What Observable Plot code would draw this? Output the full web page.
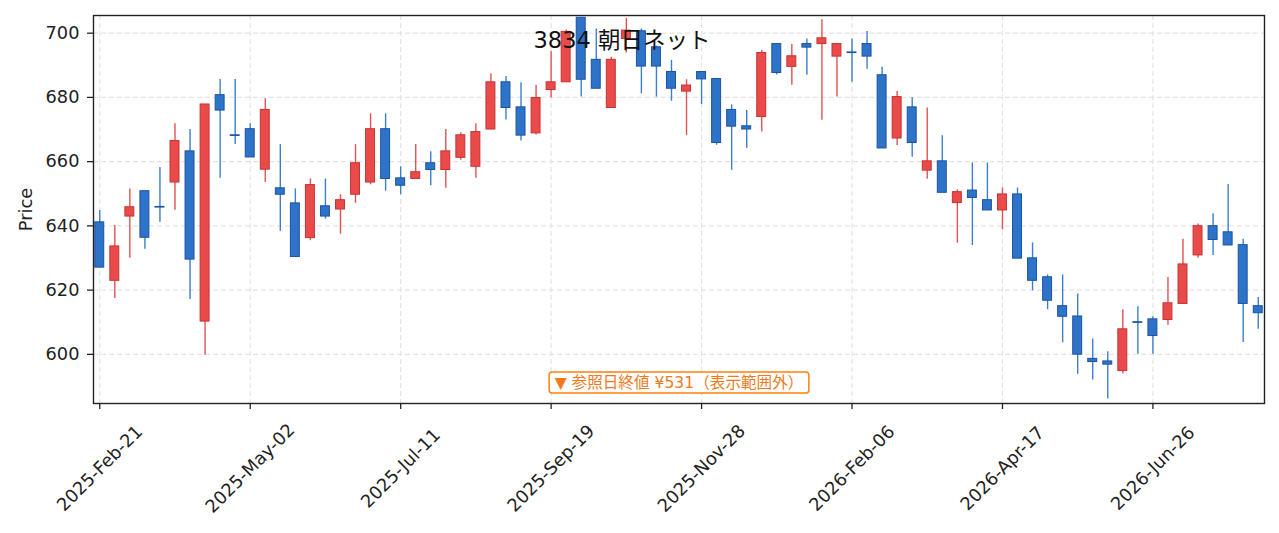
<!DOCTYPE html>
<html>
<head>
<meta charset="utf-8">
<script src="https://cdn.jsdelivr.net/npm/d3@7"></script>
<script src="https://cdn.jsdelivr.net/npm/@observablehq/plot@0.6"></script>
<style>
  html, body { margin: 0; padding: 0; background: #ffffff; }
  #chart { width: 1279px; height: 533px; }
</style>
</head>
<body>
<div id="chart"></div>
<script>
// ---- Data (weekly candles) ----
const dates = [
  "2025-02-21","2025-02-28","2025-03-07","2025-03-14","2025-03-21","2025-03-28","2025-04-04","2025-04-11","2025-04-18","2025-04-25",
  "2025-05-02","2025-05-09","2025-05-16","2025-05-23","2025-05-30","2025-06-06","2025-06-13","2025-06-20","2025-06-27","2025-07-04",
  "2025-07-11","2025-07-18","2025-07-25","2025-08-01","2025-08-08","2025-08-15","2025-08-22","2025-08-29","2025-09-05","2025-09-12",
  "2025-09-19","2025-09-26","2025-10-03","2025-10-10","2025-10-17","2025-10-24","2025-10-31","2025-11-07","2025-11-14","2025-11-21",
  "2025-11-28","2025-12-05","2025-12-12","2025-12-19","2025-12-26","2026-01-02","2026-01-09","2026-01-16","2026-01-23","2026-01-30",
  "2026-02-06","2026-02-13","2026-02-20","2026-02-27","2026-03-06","2026-03-13","2026-03-20","2026-03-27","2026-04-03","2026-04-10",
  "2026-04-17","2026-04-24","2026-05-01","2026-05-08","2026-05-15","2026-05-22","2026-05-29","2026-06-05","2026-06-12","2026-06-19",
  "2026-06-26","2026-07-03","2026-07-10","2026-07-17","2026-07-24","2026-07-31","2026-08-07","2026-08-14"
];
const open = [
  641.1,622.9,642.9,650.8,645.9,653.5,663.2,610.2,680.7,668.2,
  670.1,657.5,651.7,647.0,636.2,646.1,645.1,649.7,653.5,670.1,
  654.8,654.6,659.5,657.4,661.2,658.4,670.0,684.7,676.9,668.8,
  682.3,684.7,704.8,691.7,676.7,698.2,700.6,695.6,687.9,681.8,
  687.9,685.7,676.1,671.0,673.9,696.6,689.5,696.6,696.6,692.7,
  694.0,696.6,686.9,667.2,676.9,657.2,660.1,647.1,651.0,648.0,
  644.8,649.8,629.9,624.0,615.0,611.8,598.6,597.8,594.8,610.0,
  610.9,610.7,615.7,630.8,639.9,638.0,634.0,615.0
];
const high = [
  644.8,640.1,651.5,650.8,658.2,671.8,670.0,677.8,685.6,685.6,
  671.8,679.6,665.3,651.5,654.6,654.6,649.7,665.3,674.9,674.9,
  658.4,665.3,663.1,670.0,669.0,671.8,687.4,686.5,684.6,683.7,
  694.3,701.0,704.8,701.3,692.5,704.6,701.3,696.0,691.5,685.5,
  687.9,685.7,677.7,675.9,694.6,696.6,696.5,698.2,704.2,696.6,
  698.2,700.5,689.4,681.8,679.9,676.7,668.1,651.2,659.6,659.6,
  651.8,651.8,634.7,624.7,624.7,618.8,604.8,600.8,613.9,614.8,
  611.7,623.9,635.8,640.6,643.8,652.9,635.8,617.7
];
const low = [
  627.0,617.4,629.9,632.7,641.1,644.9,617.1,599.7,654.8,665.3,
  661.3,653.5,638.3,630.3,635.4,642.1,637.4,647.0,652.8,650.8,
  649.7,654.6,652.5,651.7,660.4,654.8,670.0,673.0,666.4,668.3,
  679.8,684.7,680.1,682.7,676.7,693.8,681.1,680.1,678.8,668.1,
  677.8,665.1,657.3,664.2,669.2,687.0,683.8,686.9,672.9,680.1,
  684.7,688.8,664.1,665.0,661.4,654.5,650.3,634.6,633.9,644.8,
  638.8,629.8,619.8,613.9,603.6,593.8,592.0,586.1,593.9,600.0,
  600.0,609.1,615.7,629.9,630.8,633.9,603.7,607.8
];
const close = [
  627.0,633.6,645.8,636.3,645.7,666.4,629.5,677.8,675.9,668.0,
  661.3,676.1,649.7,630.3,652.7,642.9,648.0,659.5,670.1,654.6,
  652.5,656.7,657.4,663.2,668.2,669.2,684.7,676.7,668.1,679.8,
  684.7,700.4,685.5,682.7,691.7,700.8,689.6,689.6,682.7,683.7,
  685.6,665.8,670.9,670.0,693.8,687.6,692.8,695.5,698.4,696.6,
  693.8,692.7,664.1,680.1,665.8,660.1,650.3,650.5,648.7,644.8,
  649.8,629.8,622.9,616.7,611.7,599.9,597.6,596.8,607.8,609.8,
  605.7,615.9,628.0,639.9,635.6,633.9,615.7,612.8
];
const xTickDates = ["2025-02-21","2025-05-02","2025-07-11","2025-09-19","2025-11-28","2026-02-06","2026-04-17","2026-06-26"];
const yTicks = [600, 620, 640, 660, 680, 700];
const titleText = "3834 朝日ネット";
const noteText = "▼ 参照日終値 ¥531（表示範囲外）";
const yLabel = "Price";

// ---- Build table ----
const candles = dates.map((d, i) => ({
  date: new Date(d + "T00:00:00Z"),
  open: open[i], high: high[i], low: low[i], close: close[i]
}));
const xTicks = xTickDates.map(d => new Date(d + "T00:00:00Z"));
const fmt = d3.utcFormat("%Y-%b-%d");

const upFill = "#e84b49", upEdge = "#c93232", upWick = "#e45252";
const dnFill = "#2d74c8", dnEdge = "#1c52a3", dnWick = "#3a7fcf";
const isUp = d => d.close >= d.open;

const first = candles[0].date, last = candles[candles.length - 1].date;
const xDomain = [d3.utcHour.offset(first, -70), d3.utcHour.offset(last, 70)];

const gridStyle = {stroke: "#e4e4e4", strokeOpacity: 1, strokeWidth: 1.2, strokeDasharray: "5,3"};

const chart = Plot.plot({
  width: 1279,
  height: 533,
  marginTop: 15,
  marginRight: 15,
  marginBottom: 130,
  marginLeft: 93,
  style: {fontFamily: "'DejaVu Sans', 'Noto Sans CJK JP', sans-serif", fontSize: "17.8px", color: "#222", background: "#ffffff"},
  x: {type: "utc", domain: xDomain},
  y: {domain: [584.7, 705.5]},
  marks: [
    Plot.gridX(xTicks, gridStyle),
    Plot.gridY(yTicks, gridStyle),
    Plot.ruleX(candles, {x: "date", y1: "low", y2: "high", stroke: d => isUp(d) ? upWick : dnWick, strokeWidth: 1.4}),
    Plot.rect(candles, {
      x1: d => d3.utcHour.offset(d.date, -50),
      x2: d => d3.utcHour.offset(d.date, 50),
      y1: "open", y2: "close",
      fill: d => isUp(d) ? upFill : dnFill,
      stroke: d => isUp(d) ? upEdge : dnEdge,
      strokeWidth: 1
    }),
    Plot.frame({stroke: "#222", strokeWidth: 1.4}),
    Plot.axisY(yTicks, {tickSize: 6, tickPadding: 8, strokeWidth: 1.3, label: yLabel, labelAnchor: "center", labelArrow: "none", labelOffset: 74}),
    Plot.axisX(xTicks, {tickSize: 6, strokeWidth: 1.3, tickFormat: () => "", label: null}),
    Plot.text(xTicks, {x: d => d, frameAnchor: "bottom", dy: 65, rotate: -45, text: d => fmt(d), textAnchor: "middle", lineAnchor: "middle", fill: "#222"}),
    Plot.text([titleText], {frameAnchor: "top", lineAnchor: "middle", dx: -57, dy: 25, fontSize: 22.5, fill: "#111"}),
    Plot.text([noteText], {frameAnchor: "bottom", lineAnchor: "middle", dy: -21, fontSize: 15.6, fill: "#f07a1a", className: "note"})
  ]
});
document.getElementById("chart").appendChild(chart);

// rounded box behind the note
const t = chart.querySelector(".note text");
if (t) {
  const bb = t.getBBox();
  const r = document.createElementNS("http://www.w3.org/2000/svg", "rect");
  r.setAttribute("x", bb.x - 5.5);
  r.setAttribute("y", bb.y + bb.height / 2 - 10.5);
  r.setAttribute("width", bb.width + 11);
  r.setAttribute("height", 21);
  r.setAttribute("rx", 3);
  r.setAttribute("fill", "#ffffff");
  r.setAttribute("stroke", "#ff7f0e");
  r.setAttribute("stroke-width", 1.5);
  if (t.getAttribute("transform")) r.setAttribute("transform", t.getAttribute("transform"));
  t.parentNode.insertBefore(r, t);
}
</script>
</body>
</html>
